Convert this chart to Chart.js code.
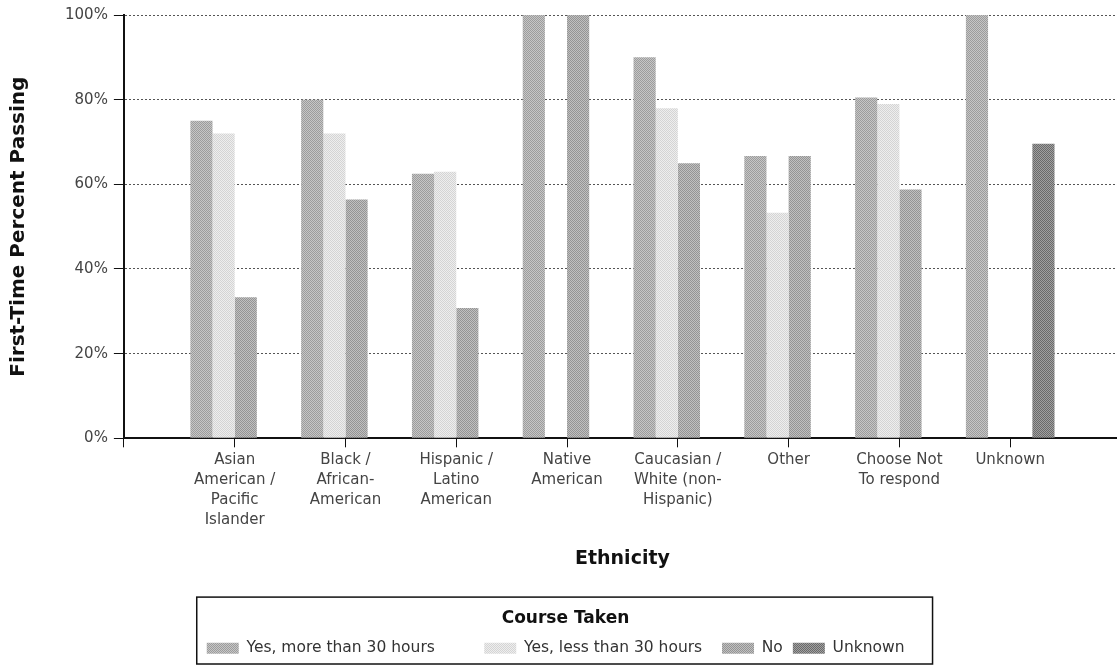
<!DOCTYPE html>
<html>
<head>
<meta charset="utf-8">
<script src="https://cdn.jsdelivr.net/npm/chart.js@4.4.1/dist/chart.umd.min.js"></script>
<style>
  html, body { margin: 0; padding: 0; background: #fff; overflow: hidden; }
  #wrap { width: 1124px; height: 669px; }
</style>
</head>
<body>
<div id="wrap"><canvas id="chart1"></canvas></div>
<script>
// Dados do gráfico
const categories = [
    ['Asian', 'American /', 'Pacific', 'Islander'],
    ['Black /', 'African-', 'American'],
    ['Hispanic /', 'Latino', 'American'],
    ['Native', 'American'],
    ['Caucasian /', 'White (non-', 'Hispanic)'],
    'Other',
    ['Choose Not', 'To respond'],
    'Unknown'
];
const seriesNames = ['Yes, more than 30 hours', 'Yes, less than 30 hours', 'No', 'Unknown'];
const yesMore = [75, 80, 62.5, 100, 90, 66.7, 80.5, 100];
const yesLess = [72, 72, 63, null, 78, 53.3, 79, null];
const noCourse = [33.3, 56.4, 30.8, 100, 65, 66.7, 58.8, null];
const unknownCourse = [null, null, null, null, null, null, null, 69.6];
const yTicks = [0, 20, 40, 60, 80, 100];

// uma categoria vazia de cada lado (o eixo começa uma categoria antes)
const pad = v => [null, ...v, null];
const xLabels = ['', ...categories, ''];

// textura pontilhada (tipo impressão)
function dither(c1, c2) {
    const cv = document.createElement('canvas');
    cv.width = 2; cv.height = 2;
    const g = cv.getContext('2d');
    g.fillStyle = c1; g.fillRect(0, 0, 2, 2);
    g.fillStyle = c2; g.fillRect(0, 0, 1, 1); g.fillRect(1, 1, 1, 1);
    return g.createPattern(cv, 'repeat');
}

const fills = [
    dither('#c6c6c6', '#9c9c9c'),
    dither('#eeeeee', '#d4d4d4'),
    dither('#c0c0c0', '#949494'),
    dither('#a0a0a0', '#6a6a6a')
];

const FONT = 'DejaVu Sans';
const LEGEND_SIZE = 15.5;
// espaços depois de cada item da legenda
const legendGaps = ['        ', '  ', '', '    '];

const legendBox = {
    id: 'legendBox',
    afterDraw(chart) {
        const lg = chart.legend;
        if (!lg || !lg.legendHitBoxes.length) return;
        const hb = lg.legendHitBoxes;
        const last = hb[hb.length - 1];
        const ctx = chart.ctx;
        ctx.save();
        ctx.font = LEGEND_SIZE + 'px "' + FONT + '"';
        const textEnd = last.left + 32 + LEGEND_SIZE / 2 + ctx.measureText(seriesNames[3]).width;
        const left = hb[0].left - 10;
        const right = textEnd + 28;
        ctx.strokeStyle = '#111';
        ctx.lineWidth = 1.5;
        ctx.strokeRect(left, lg.top + 3, right - left, lg.bottom - lg.top - 5);
        ctx.restore();
    }
};

const data1 = {
    labels: xLabels,
    datasets: [yesMore, yesLess, noCourse, unknownCourse].map((d, i) => ({
        label: seriesNames[i],
        data: pad(d),
        backgroundColor: fills[i],
        borderWidth: 0,
        categoryPercentage: 0.8,
        barPercentage: 1.0
    }))
};

const config1 = {
    type: 'bar',
    data: data1,
    plugins: [legendBox],
    options: {
        responsive: true,
        maintainAspectRatio: false,
        animation: false,
        layout: { padding: { top: 15, left: 7, right: 0, bottom: 3 } },
        plugins: {
            tooltip: { enabled: false },
            legend: {
                position: 'bottom',
                title: {
                    display: true,
                    text: 'Course Taken',
                    color: '#111',
                    font: { family: FONT, size: 17, weight: 'bold' },
                    padding: { top: 16, bottom: 0 }
                },
                labels: {
                    color: '#333',
                    font: { family: FONT, size: LEGEND_SIZE },
                    boxWidth: 32,
                    boxHeight: 11,
                    padding: 10,
                    generateLabels: chart => {
                        const items = Chart.defaults.plugins.legend.labels.generateLabels(chart);
                        items.forEach((it, i) => {
                            it.text = it.text + legendGaps[i];
                            it.lineWidth = 0;
                        });
                        return items;
                    }
                }
            }
        },
        scales: {
            x: {
                offset: false,
                grid: {
                    offset: false,
                    drawOnChartArea: false,
                    drawTicks: true,
                    tickLength: 9,
                    color: '#111'
                },
                border: { color: '#111', width: 2 },
                ticks: {
                    autoSkip: false,
                    maxRotation: 0,
                    color: '#444',
                    font: { family: FONT, size: 15, lineHeight: 1.333 },
                    padding: 3
                },
                title: {
                    display: true,
                    text: 'Ethnicity',
                    color: '#111',
                    font: { family: FONT, size: 19, weight: 'bold' },
                    padding: { top: 14, bottom: 24 }
                }
            },
            y: {
                min: 0,
                max: 100,
                afterBuildTicks: axis => { axis.ticks = yTicks.map(v => ({ value: v })); },
                grid: {
                    color: '#555',
                    lineWidth: 1,
                    tickLength: 10,
                    tickColor: '#111',
                    tickBorderDash: [],
                    borderDash: [2, 2]
                },
                border: { color: '#111', width: 2, dash: [2, 2] },
                ticks: {
                    color: '#444',
                    font: { family: FONT, size: 15 },
                    padding: 6,
                    callback: v => v + '%'
                },
                title: {
                    display: true,
                    text: 'First-Time Percent Passing',
                    color: '#111',
                    font: { family: FONT, size: 20, weight: 'bold' },
                    padding: { top: 0, bottom: 28 }
                }
            }
        }
    }
};

const chart1 = new Chart(document.getElementById('chart1'), config1);
</script>
</body>
</html>
